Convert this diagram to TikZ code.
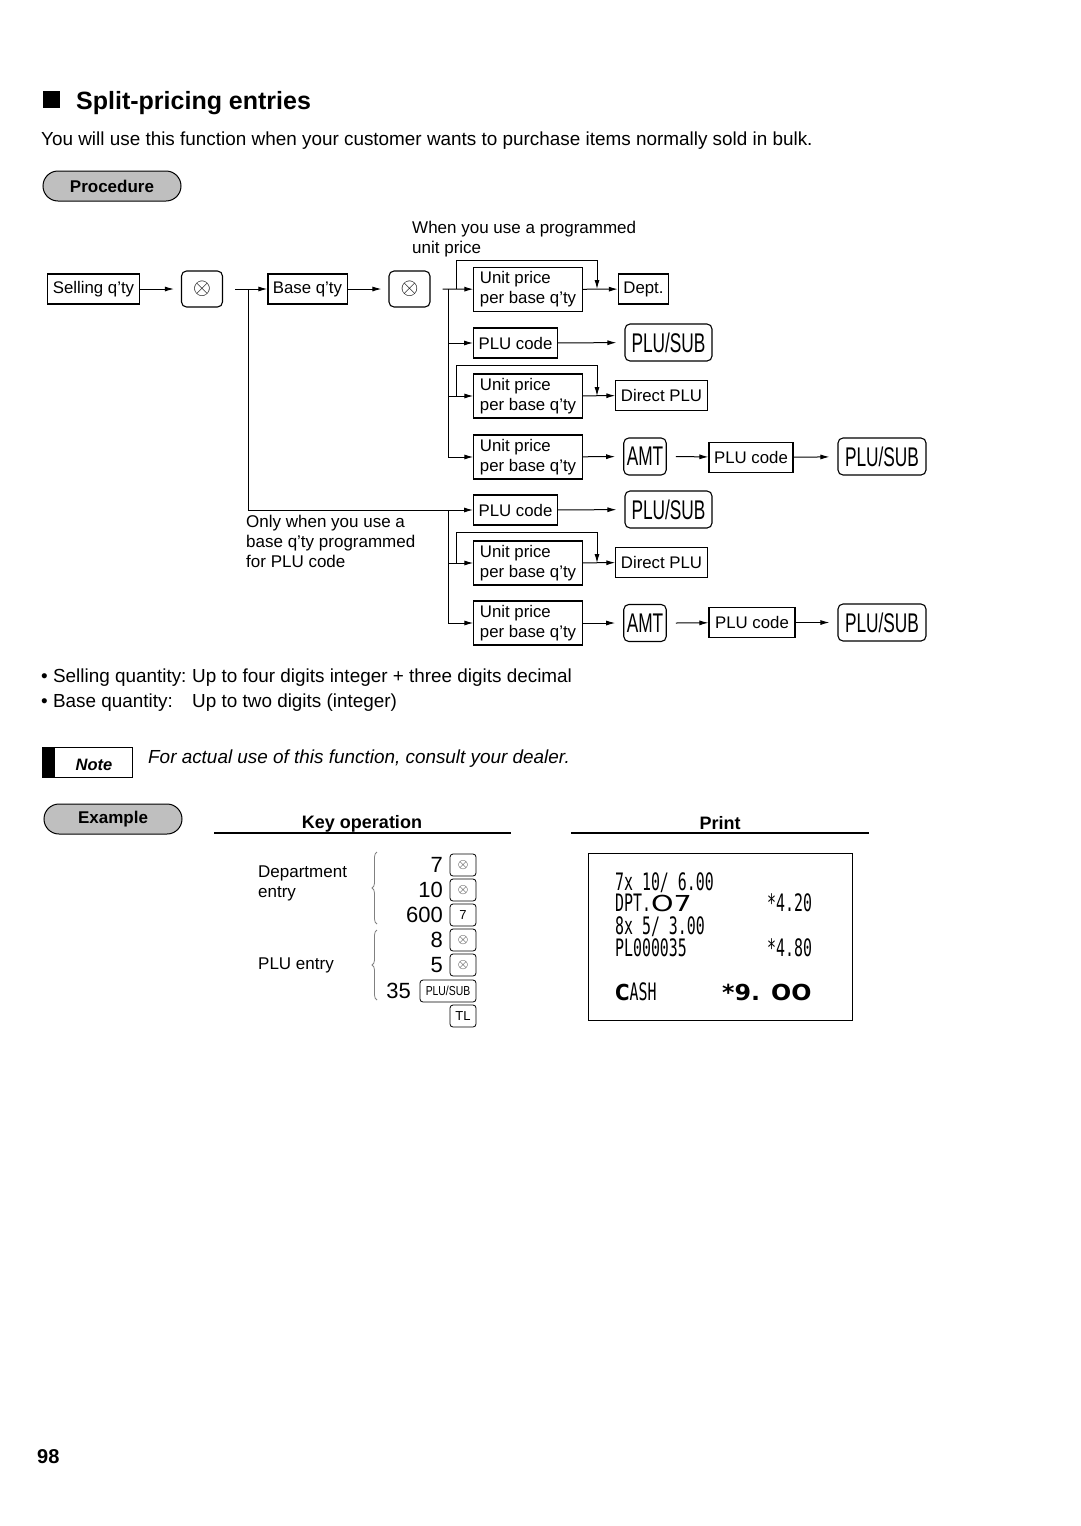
\documentclass[tikz,border=0pt]{standalone}
\usepackage{fontspec}
\usepackage{graphicx}
\setmainfont{Liberation Sans}
\newfontfamily\symfont{DejaVu Sans}
\newfontfamily\prtfont{DejaVu Sans Mono}
\usetikzlibrary{arrows.meta,decorations.pathreplacing}

\newcommand{\fsz}[2]{\fontsize{#1}{#2}\selectfont}
\newcommand{\mulkey}{\scalebox{2.3}{$\otimes$}}
\newcommand{\smulkey}{\scalebox{1.35}{$\otimes$}}
\newcommand{\keylbl}[1]{\scalebox{0.64}[1]{\fsz{27}{30}#1}}
\newcommand{\prt}[1]{\scalebox{0.62}[1]{\prtfont\fsz{24}{26}#1}}
\newcommand{\Unitp}{Unit price\\per base q'ty}

\begin{document}
\begin{tikzpicture}[x=1pt,y=-1pt,
  box/.style={draw, line width=1.1pt, inner xsep=5pt, inner ysep=0pt, minimum height=30pt, font=\fsz{16.8}{20}},
  boxtwo/.style={box, align=left, minimum height=44pt, minimum width=108pt, inner xsep=6pt},
  key/.style={draw, line width=1.1pt, rounded corners=5pt, minimum height=37pt, inner xsep=3pt, inner ysep=0pt},
  skey/.style={draw, line width=0.8pt, rounded corners=3pt, minimum width=26pt, minimum height=22pt, inner xsep=2pt, inner ysep=0pt},
  arr/.style={-{Latex[length=9pt,width=5pt]}, line width=1pt},
  pill/.style={draw, line width=1pt, fill=gray!50, rounded corners=15pt, minimum width=138pt, minimum height=30pt, font=\fsz{17}{20}\bfseries},
  lbl/.style={font=\fsz{17}{20}, align=left, inner sep=0pt}]
\useasboundingbox (0,0) rectangle (1080,1526);

% heading
\fill (43,91) rectangle (60,108);
\node (title) [anchor=base west, inner sep=0pt, font=\fsz{25}{30}\bfseries] at (76,109) {Split-pricing entries};
\node (intro) [anchor=base west, inner sep=0pt, font=\fsz{18.9}{22}] at (41,145) {You will use this function when your customer wants to purchase items normally sold in bulk.};
\node (proc) [pill] at (112,186) {Procedure};

% flow
\node (sq) [box] at (93.5,289) {Selling q'ty};
\node (x1) [key, minimum width=41pt, minimum height=36pt] at (202,289) {\mulkey};
\node (bq) [box] at (307.5,289) {Base q'ty};
\node (x2) [key, minimum width=41pt, minimum height=36pt] at (409.5,289) {\mulkey};
\node (up1) [boxtwo] at (528,289.5) {\Unitp};
\node (dept) [box] at (643.5,289) {Dept.};
\node (plu1) [box, minimum width=83pt] at (515.5,343) {PLU code};
\node (ps1) [key, minimum width=87pt] at (668.5,342.5) {\keylbl{PLU/SUB}};
\node (up2) [boxtwo] at (528,396) {\Unitp};
\node (dplu1) [box] at (661.5,395.5) {Direct PLU};
\node (up3) [boxtwo] at (528,457) {\Unitp};
\node (amt1) [key, minimum width=42pt] at (645,456.5) {\keylbl{AMT}};
\node (plu2) [box, minimum width=84pt] at (751,457.5) {PLU code};
\node (ps2) [key, minimum width=88pt] at (882,456.5) {\keylbl{PLU/SUB}};
\node (plu3) [box, minimum width=83pt] at (515.5,510) {PLU code};
\node (ps3) [key, minimum width=87pt] at (668.5,509.5) {\keylbl{PLU/SUB}};
\node (up4) [boxtwo] at (528,563) {\Unitp};
\node (dplu2) [box] at (661.5,562.5) {Direct PLU};
\node (up5) [boxtwo] at (528,623) {\Unitp};
\node (amt2) [key, minimum width=42pt] at (645,623) {\keylbl{AMT}};
\node (plu4) [box, minimum width=86pt] at (752,622.5) {PLU code};
\node (ps4) [key, minimum width=88pt] at (882,622.5) {\keylbl{PLU/SUB}};

\node (hint1) [lbl, anchor=north west] at (412,221) {When you use a programmed\\unit price};
\node (hint2) [lbl, anchor=north west] at (246,515) {Only when you use a\\base q'ty programmed\\for PLU code};

\coordinate (b1) at (248,289);
\coordinate (b2) at (448,289);
\coordinate (b3) at (448,510);
\coordinate (c1) at (456,289);
\coordinate (j1) at (597,289);
\coordinate (c2) at (456,396);
\coordinate (j2) at (597,396);
\coordinate (c3) at (456,563);
\coordinate (j3) at (597,563);

\draw[arr, shorten >=7pt] (sq) -- (x1);
\draw[arr] ([xshift=12pt]x1.east) -- (bq);
\draw[arr] (b1) |- (plu3);
\draw[arr, shorten >=7pt] (bq) -- (x2);
\draw[arr] ([xshift=12pt]x2.east) -- (up1);
\draw[arr] (b2) |- (plu1);
\draw[arr] (b2) |- (up2);
\draw[arr] (b2) |- (up3);
\draw[arr] (b3) |- (up4);
\draw[arr] (b3) |- (up5);
\draw[arr] (c1) -- ++(0,-29) -| (j1);
\draw[arr] (up1) -- (dept);
\draw[arr, shorten >=8pt] (plu1) -- (ps1);
\draw[arr] (c2) -- ++(0,-31) -| (j2);
\draw[arr] (up2) -- (dplu1);
\draw[arr, shorten >=8pt] (up3) -- (amt1);
\draw[arr] ([xshift=9pt]amt1.east) -- (plu2);
\draw[arr, shorten >=8pt] (plu2) -- (ps2);
\draw[arr, shorten >=8pt] (plu3) -- (ps3);
\draw[arr] (c3) -- ++(0,-31) -| (j3);
\draw[arr] (up4) -- (dplu2);
\draw[arr, shorten >=8pt] (up5) -- (amt2);
\draw[arr] ([xshift=9pt]amt2.east) -- (plu4);
\draw[arr, shorten >=8pt] (plu4) -- (ps4);

% limits
\node (sel) [anchor=base west, inner sep=0pt, font=\fsz{18.9}{22}] at (41,682) {\textbullet\ Selling quantity:};
\node (selv) [anchor=base west, inner sep=0pt, font=\fsz{18.9}{22}] at (192,682) {Up to four digits integer + three digits decimal};
\node (bas) [anchor=base west, inner sep=0pt, font=\fsz{18.9}{22}] at (41,707) {\textbullet\ Base quantity:};
\node (basv) [anchor=base west, inner sep=0pt, font=\fsz{18.9}{22}] at (192,707) {Up to two digits (integer)};

% note
\draw[line width=1pt] (42,747) rectangle (132,777);
\fill (42,747) rectangle (55,777);
\node (note) [inner sep=0pt, font=\fsz{16.5}{20}\bfseries\itshape] at (94,765) {Note};
\node (notetxt) [anchor=base west, inner sep=0pt, font=\fsz{18.9}{22}\itshape] at (148,763) {For actual use of this function, consult your dealer.};

% example
\node (expl) [pill] at (113,819) {Example};
\node (keyop) [font=\fsz{18}{22}\bfseries, inner sep=0pt] at (362,824) {Key operation};
\draw[line width=1.2pt] (214,833) -- (511,833);
\node (print) [font=\fsz{18}{22}\bfseries, inner sep=0pt] at (720,823) {Print};
\draw[line width=1.2pt] (571,833) -- (869,833);

\node (dep) [lbl, anchor=north west] at (258,866) {Department\\entry};
\node (pluent) [lbl, anchor=base west] at (258,969) {PLU entry};
\draw[decorate, decoration={brace,amplitude=5pt}, gray, line width=0.8pt] (377,924) -- (377,852);
\draw[decorate, decoration={brace,amplitude=5pt}, gray, line width=0.8pt] (377,1000) -- (377,930);

\foreach \n/\v/\y in {na/7/865, nb/10/890, nc/600/915, nd/8/940, ne/5/965}
  \node (\n) [anchor=east, inner sep=0pt, font=\fsz{22}{24}] at (443,\y) {\v};
\node (nf) [anchor=east, inner sep=0pt, font=\fsz{22}{24}] at (411,991) {35};
\node (ka) [skey] at (463,865) {\smulkey};
\node (kb) [skey] at (463,890) {\smulkey};
\node (kc) [skey, font=\fsz{13}{15}] at (463,915) {7};
\node (kd) [skey] at (463,940) {\smulkey};
\node (ke) [skey] at (463,965) {\smulkey};
\node (kf) [skey, minimum width=56pt] at (448,991) {\scalebox{0.8}[1]{\fsz{13}{15}PLU/SUB}};
\node (kg) [skey, font=\fsz{13}{15}] at (463,1016) {TL};

% receipt
\draw[line width=1pt] (588,853) rectangle (852,1020);
\node (r1) [anchor=base west, inner sep=0pt] at (615,890) {\prt{7x 10/ 6.00}};
\node (r2) [anchor=base west, inner sep=0pt] at (615,911) {\prt{DPT.}\scalebox{1.3}[1]{\fsz{22}{24}\symfont O7}};
\node (r2v) [anchor=base west, inner sep=0pt] at (767,911) {\prt{*4.20}};
\node (r3) [anchor=base west, inner sep=0pt] at (615,934) {\prt{8x 5/ 3.00}};
\node (r4) [anchor=base west, inner sep=0pt] at (615,956) {\prt{PL000035}};
\node (r4v) [anchor=base west, inner sep=0pt] at (767,956) {\prt{*4.80}};
\node (r5) [anchor=base west, inner sep=0pt] at (615,1000) {\scalebox{0.9}[1]{\fsz{22}{24}\bfseries\symfont C}\prt{ASH}};
\node (r5v) [anchor=base west, inner sep=0pt] at (722,1000) {\scalebox{1.08}[1]{\fsz{22}{24}\bfseries\symfont *9. OO}};

\node (pg) [anchor=base west, inner sep=0pt, font=\fsz{20}{24}\bfseries] at (37,1463) {98};
\end{tikzpicture}
\end{document}
